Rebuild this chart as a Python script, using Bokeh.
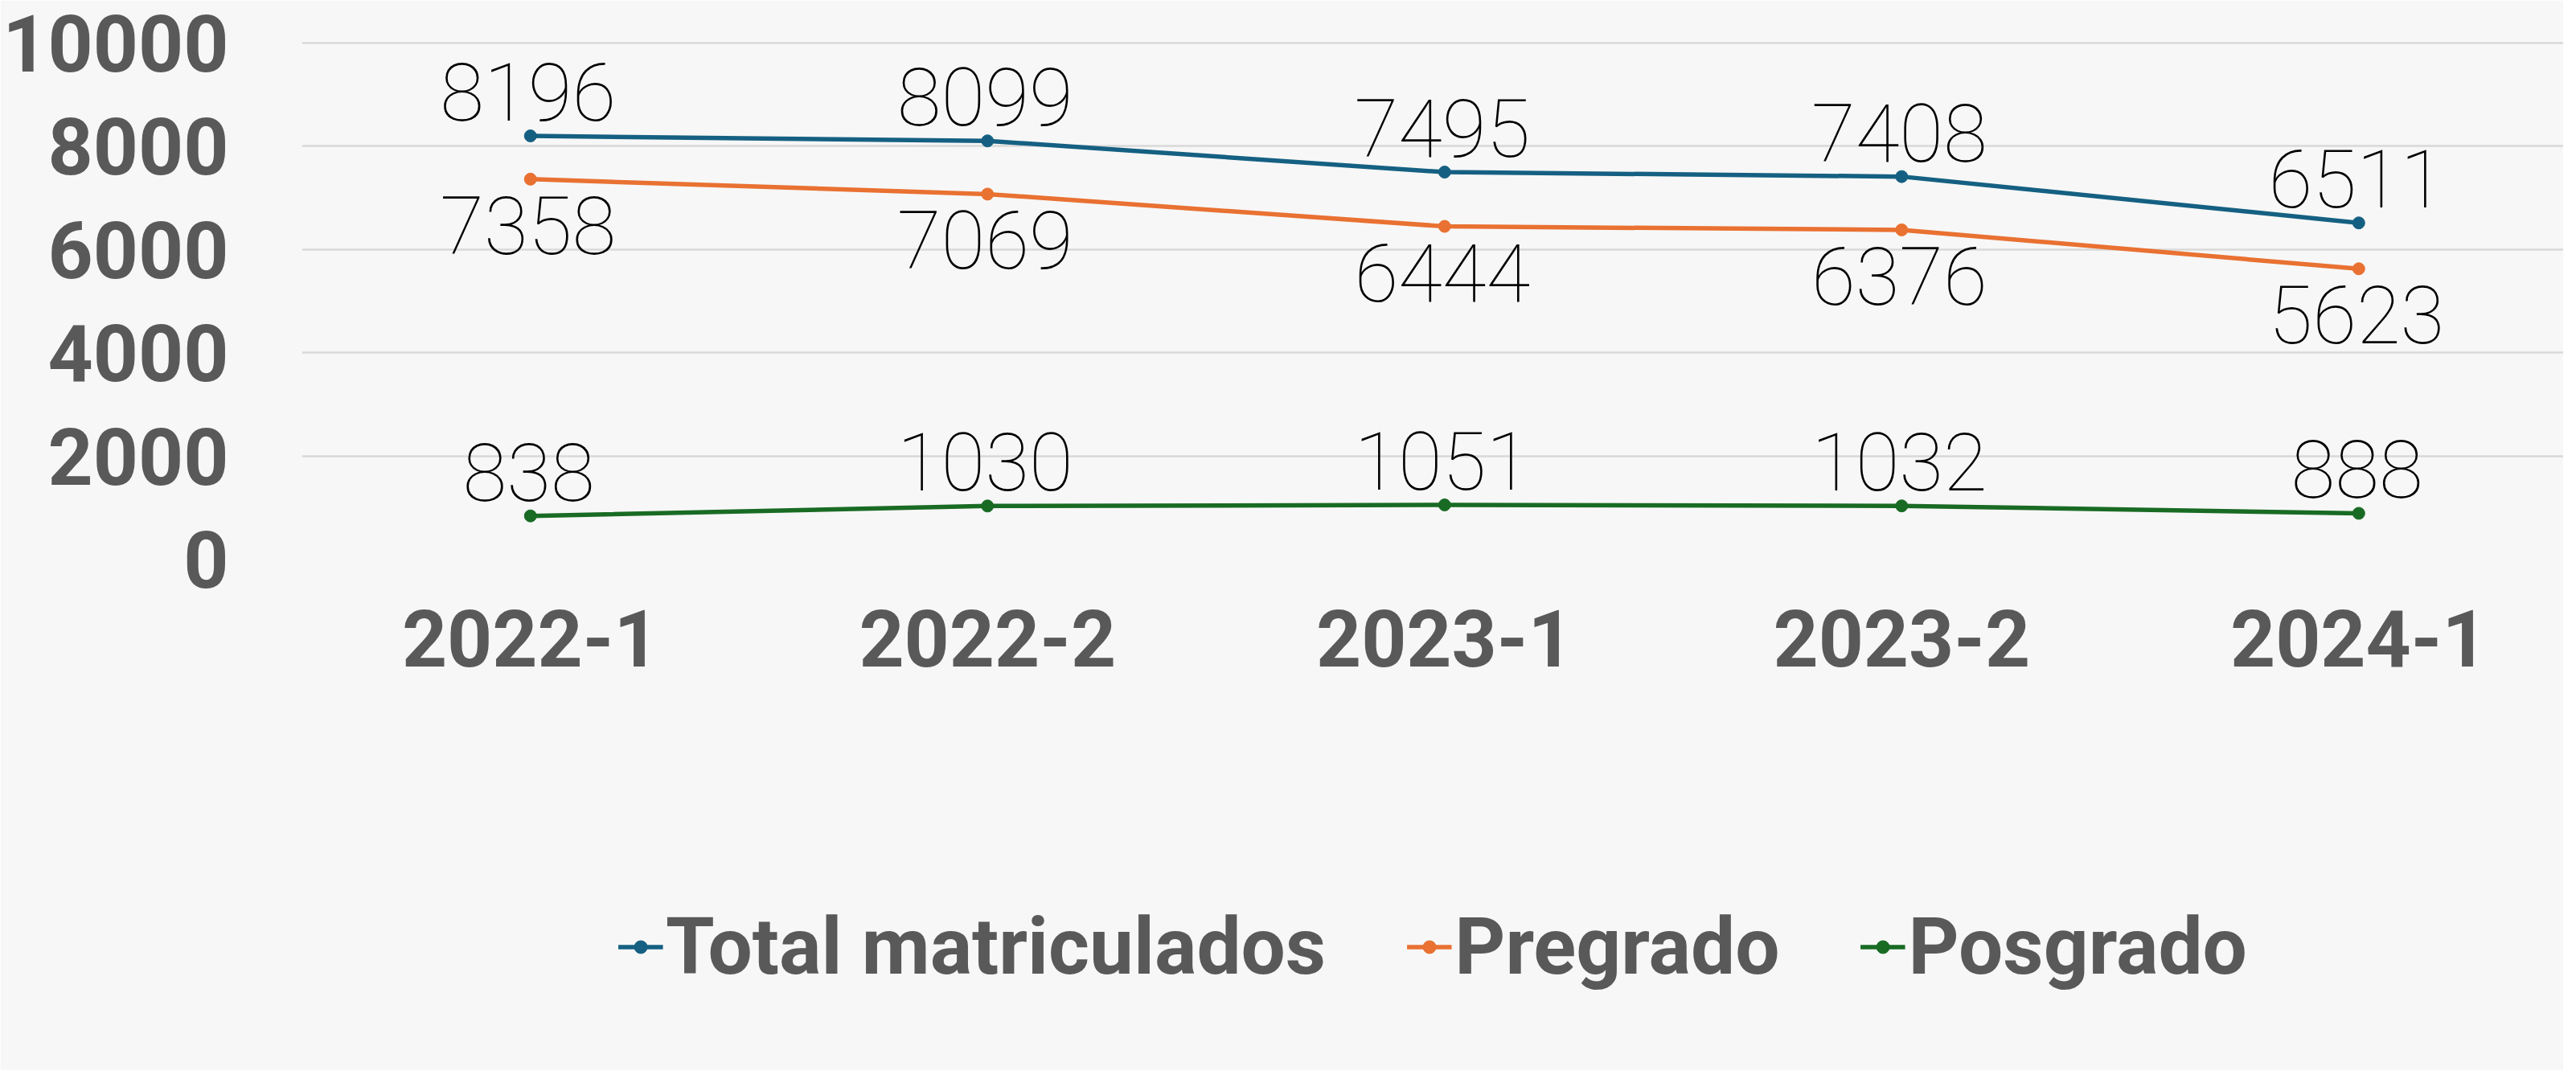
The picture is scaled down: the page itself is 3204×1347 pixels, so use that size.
from bokeh.plotting import figure
from bokeh.models import (ColumnDataSource, Range1d, FixedTicker,
                          Legend, LegendItem)
from bokeh.core.properties import value
from bokeh.embed import file_html
from bokeh.resources import INLINE

categories = ["2022-1", "2022-2", "2023-1", "2023-2", "2024-1"]
total = [8196, 8099, 7495, 7408, 6511]
pregrado = [7358, 7069, 6444, 6376, 5623]
posgrado = [838, 1030, 1051, 1032, 888]
series_names = ["Total matriculados", "Pregrado", "Posgrado"]
colors = ["#156082", "#E97132", "#196B24"]
label_side = ["above", "below", "above"]
y_ticks = [0, 2000, 4000, 6000, 8000, 10000]

FONT = "Roboto"
BG = "#F7F7F7"

xs = list(range(len(categories)))

p = figure(width=3188, height=1331, output_backend="svg", toolbar_location=None,
           x_range=Range1d(-0.5, 4.448), y_range=Range1d(0, 10041),
           min_border_left=370, min_border_right=0, min_border_top=50,
           min_border_bottom=296)
p.background_fill_color = BG
p.border_fill_color = BG
p.outline_line_color = None

p.xgrid.grid_line_color = None
p.ygrid.grid_line_color = "#D9D9D9"
p.ygrid.grid_line_width = 2.5

p.yaxis.ticker = FixedTicker(ticks=y_ticks)
p.xaxis.ticker = FixedTicker(ticks=xs)
p.xaxis.major_label_overrides = {i: c for i, c in enumerate(categories)}
for ax in (p.xaxis, p.yaxis):
    ax.axis_line_color = None
    ax.major_tick_line_color = None
    ax.minor_tick_line_color = None
    ax.major_tick_in = 0
    ax.major_tick_out = 0
    ax.major_label_text_font = FONT
    ax.major_label_text_font_style = "bold"
    ax.major_label_text_font_size = "98px"
    ax.major_label_text_color = "#595959"
p.yaxis.major_label_standoff = 91
p.xaxis.major_label_standoff = 62

series_values = [total, pregrado, posgrado]
srcs = [ColumnDataSource(dict(x=xs, y=v, t=[str(a) for a in v]))
        for v in series_values]

items = []
for name, src, col in zip(series_names, srcs, colors):
    r1 = p.line("x", "y", source=src, line_color=col, line_width=5.5)
    r2 = p.scatter("x", "y", source=src, size=15, fill_color=col, line_color=col)
    items.append(LegendItem(label=name, renderers=[r1, r2]))

for src, side in zip(srcs, label_side):
    p.text(x="x", y="y", text="t", source=src,
           text_font=value(FONT), text_font_size=value("100px"),
           text_align=value("center"),
           text_baseline=value("bottom" if side == "above" else "top"),
           y_offset=(-19 if side == "above" else 21))

legend = Legend(items=items, orientation="horizontal", location="center")
legend.label_text_font = FONT
legend.label_text_font_style = "bold"
legend.label_text_font_size = "98px"
legend.label_text_color = "#595959"
legend.glyph_width = 56
legend.glyph_height = 40
legend.label_standoff = 4
legend.spacing = 100
legend.padding = 0
legend.margin = 0
legend.border_line_color = None
legend.background_fill_alpha = 0
p.add_layout(legend, "below")

open("out.html", "w").write(file_html(p, INLINE))
